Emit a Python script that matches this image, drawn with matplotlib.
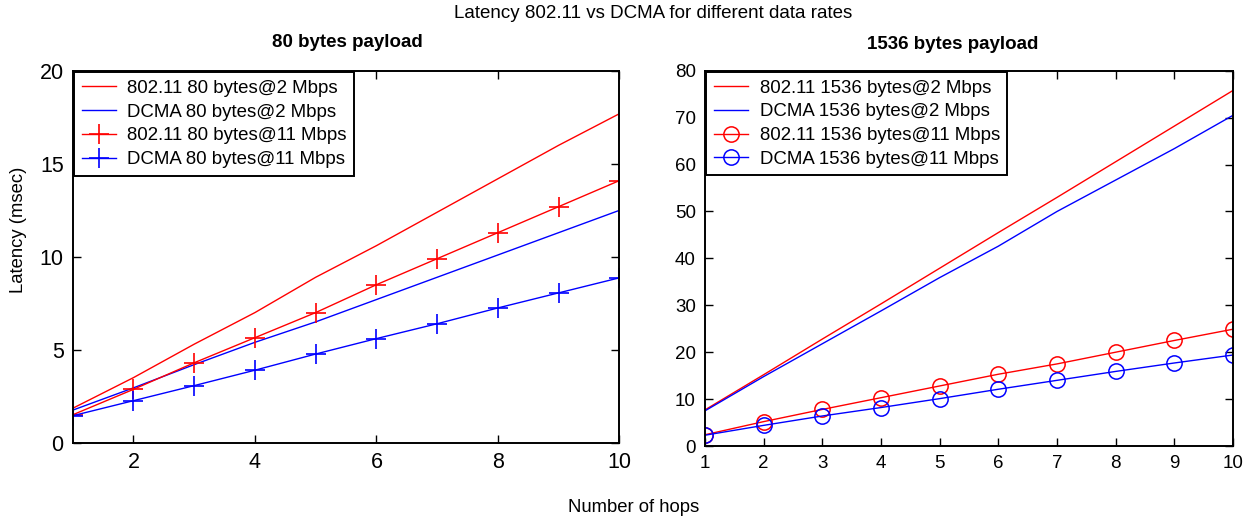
import matplotlib
matplotlib.use('Agg')
import matplotlib.pyplot as plt

plt.rcParams['font.family'] = ['Liberation Sans', 'DejaVu Sans']

hops = [1, 2, 3, 4, 5, 6, 7, 8, 9, 10]

# 80 bytes payload (msec)
wifi_80_2 = [1.85, 3.5, 5.3, 7.0, 8.9, 10.6, 12.4, 14.2, 16.0, 17.7]
dcma_80_2 = [1.75, 2.95, 4.2, 5.4, 6.5, 7.7, 8.9, 10.1, 11.3, 12.5]
wifi_80_11 = [1.5, 2.87, 4.3, 5.65, 7.0, 8.5, 9.9, 11.3, 12.7, 14.1]
dcma_80_11 = [1.45, 2.26, 3.07, 3.9, 4.77, 5.6, 6.4, 7.25, 8.06, 8.87]

# 1536 bytes payload (msec)
wifi_1536_2 = [7.7, 15.2, 22.8, 30.3, 37.9, 45.5, 53.0, 60.6, 68.2, 75.8]
dcma_1536_2 = [7.5, 14.8, 21.8, 28.8, 35.9, 42.6, 50.0, 56.7, 63.4, 70.5]
wifi_1536_11 = [2.4, 5.2, 7.8, 10.3, 12.8, 15.3, 17.5, 20.0, 22.5, 24.9]
dcma_1536_11 = [2.3, 4.4, 6.4, 8.2, 10.1, 12.1, 14.0, 15.9, 17.7, 19.4]

fig = plt.figure(figsize=(12.54, 5.2), dpi=100)
ax1 = fig.add_axes([0.058, 0.1487, 0.4359, 0.7148])
ax2 = fig.add_axes([0.5622, 0.1423, 0.4211, 0.7217])

# left: 80 bytes
ax1.plot(hops, wifi_80_2, color='r', lw=1, label='802.11 80 bytes@2 Mbps')
ax1.plot(hops, dcma_80_2, color='b', lw=1, label='DCMA 80 bytes@2 Mbps')
ax1.plot(hops, wifi_80_11, color='r', lw=1, marker='+', ms=14, mew=1.2,
         label='802.11 80 bytes@11 Mbps')
ax1.plot(hops, dcma_80_11, color='b', lw=1, marker='+', ms=14, mew=1.2,
         label='DCMA 80 bytes@11 Mbps')
ax1.set_xlim(1, 10)
ax1.set_ylim(0, 20)
ax1.set_xticks([2, 4, 6, 8, 10])
ax1.set_yticks([0, 5, 10, 15, 20])
ax1.tick_params(labelsize=15.5)

# right: 1536 bytes
ax2.plot(hops, wifi_1536_2, color='r', lw=1, label='802.11 1536 bytes@2 Mbps')
ax2.plot(hops, dcma_1536_2, color='b', lw=1, label='DCMA 1536 bytes@2 Mbps')
ax2.plot(hops, wifi_1536_11, color='r', lw=1, marker='o', ms=11, mfc='none',
         mew=1.1, label='802.11 1536 bytes@11 Mbps')
ax2.plot(hops, dcma_1536_11, color='b', lw=1, marker='o', ms=11, mfc='none',
         mew=1.1, label='DCMA 1536 bytes@11 Mbps')
ax2.set_xlim(1, 10)
ax2.set_ylim(0, 80)
ax2.set_xticks(hops)
ax2.set_yticks(range(0, 81, 10))
ax2.tick_params(labelsize=13.5)

for ax in (ax1, ax2):
    ax.tick_params(direction='in', top=True, right=True, length=5.5, width=1,
                   pad=6.5)
    for s in ax.spines.values():
        s.set_linewidth(1.4)
    leg = ax.legend(loc='upper left', fontsize=13.4, frameon=True, fancybox=False,
                    borderaxespad=0.08, handlelength=1.85, handletextpad=0.6,
                    labelspacing=0.36, borderpad=0.4)
    leg.get_frame().set_edgecolor('black')
    leg.get_frame().set_linewidth(1.4)
    leg.get_frame().set_alpha(1)

fig.text(0.2767, 0.918, '80 bytes payload', ha='center', va='center',
         fontsize=13.5, fontweight='bold')
fig.text(0.76, 0.915, '1536 bytes payload', ha='center', va='center',
         fontsize=13.5, fontweight='bold')
fig.text(0.521, 0.975, 'Latency 802.11 vs DCMA for different data rates',
         ha='center', va='center', fontsize=13.5)
fig.text(0.0148, 0.558, 'Latency (msec)', rotation=90, ha='center',
         va='center', fontsize=13.3)
fig.text(0.5056, 0.025, 'Number of hops', ha='center', va='center',
         fontsize=13.3)

fig.savefig('out.png', dpi=100)
